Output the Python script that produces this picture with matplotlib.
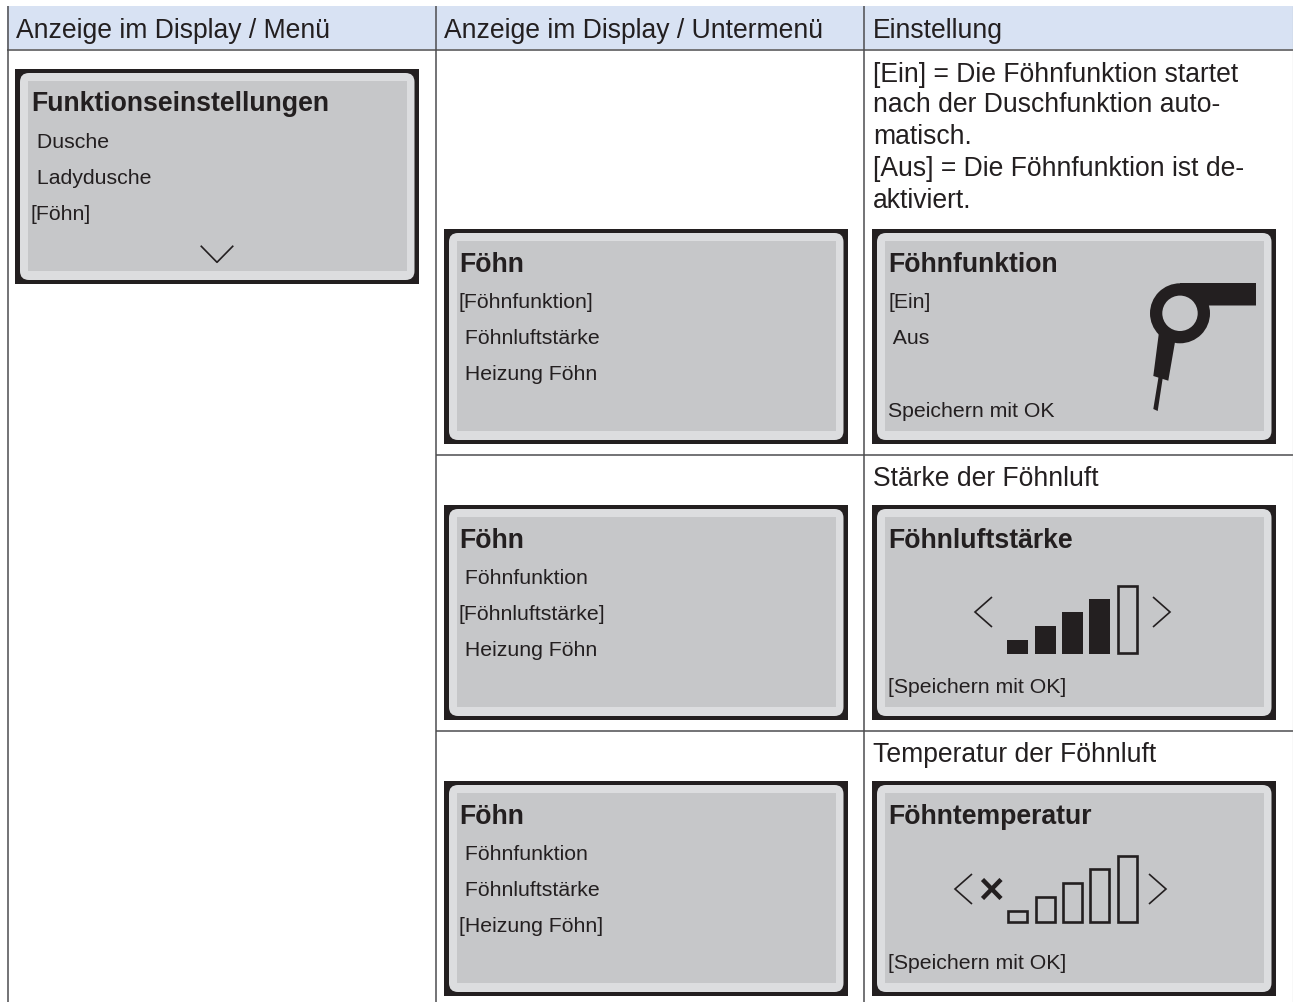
import matplotlib
matplotlib.use('Agg')
import matplotlib.pyplot as plt
from matplotlib.patches import Rectangle, FancyBboxPatch, Polygon, Circle

plt.rcParams['font.family'] = ['Liberation Sans', 'DejaVu Sans']

INK = '#231f20'
HEADER_BG = '#d8e2f3'
RIM = '#dcdddf'
LCD = '#c6c7c9'
RULE = '#4d4d4f'

headers = ['Anzeige im Display / Menü', 'Anzeige im Display / Untermenü', 'Einstellung']

menu_title = 'Funktionseinstellungen'
menu_lines = [' Dusche', ' Ladydusche', '[Föhn]']

sub_title = 'Föhn'
sub_rows = [
    ['[Föhnfunktion]', ' Föhnluftstärke', ' Heizung Föhn'],
    [' Föhnfunktion', '[Föhnluftstärke]', ' Heizung Föhn'],
    [' Föhnfunktion', ' Föhnluftstärke', '[Heizung Föhn]'],
]

setting_text = ['[Ein] = Die Föhnfunktion startet', 'nach der Duschfunktion auto-', 'matisch.',
                '[Aus] = Die Föhnfunktion ist de-', 'aktiviert.']
setting_heads = ['Stärke der Föhnluft', 'Temperatur der Föhnluft']
setting_titles = ['Föhnfunktion', 'Föhnluftstärke', 'Föhntemperatur']
save_label = '[Speichern mit OK]'

air_levels = [14, 28, 42, 55, 69]
air_filled = [True, True, True, True, False]
temp_levels = [13, 27, 41, 55, 68]
temp_filled = [False, False, False, False, False]
bar_left = [1007, 1035, 1062, 1089, 1117]

fig = plt.figure(figsize=(12.93, 10.03), dpi=100)
ax = fig.add_axes([0, 0, 1, 1])
ax.set_xlim(0, 1293)
ax.set_ylim(1003, 0)
ax.axis('off')


def screen(x, y):
    ax.add_patch(Rectangle((x, y), 404, 215, fc=INK, ec='none'))
    ax.add_patch(FancyBboxPatch((x + 5, y + 4), 394.5, 207, boxstyle='round,pad=0,rounding_size=9',
                                fc=RIM, ec='none'))
    ax.add_patch(Rectangle((x + 13, y + 12), 379, 190, fc=LCD, ec='none'))


def chevron(x, y, d):
    ax.plot([x - d * 17, x, x - d * 17], [y - 15, y, y + 15], color=INK, lw=1.2,
            solid_joinstyle='miter', solid_capstyle='butt')


def bars(levels, filled, bottom):
    for left, h, full in zip(bar_left, levels, filled):
        if full:
            ax.bar(left + 10.5, -h, width=21, bottom=bottom, color=INK, lw=0)
        else:
            ax.bar(left + 10.5, -(h - 2.6), width=18.4, bottom=bottom - 1.3, fc='none', ec=INK, lw=1.9)


def rule(xs, ys):
    ax.plot(xs, ys, color=RULE, lw=1.1, solid_capstyle='butt')


# table grid
ax.add_patch(Rectangle((7, 7), 1286, 43, fc=HEADER_BG, ec='none'))
rule([7, 1293], [50.5, 50.5])
rule([436, 1293], [455.5, 455.5])
rule([436, 1293], [731.5, 731.5])
for x in [7.5, 435.8, 864]:
    rule([x, x], [7, 1003])
ax.plot([1292.5, 1292.5], [7, 1003], color='#8a8a8c', lw=0.8, solid_capstyle='butt')

for x, label in zip([16, 444, 873], headers):
    ax.text(x, 38, label, fontsize=19.1, color=INK, va='baseline')

# first column screen
screen(15, 70)
ax.text(31, 111, menu_title, fontsize=19.2, fontweight='bold', color=INK)
for y, label in zip([148, 184, 220], menu_lines):
    ax.text(31, y, label, fontsize=15.3, color=INK)
ax.plot([201.3, 217, 232.7], [247.3, 263.3, 247.3], color=INK, lw=1.2)

# second column screens
for y0, rows in zip([230, 506, 782], sub_rows):
    screen(444, y0)
    ax.text(459, y0 + 42, sub_title, fontsize=19.2, fontweight='bold', color=INK)
    for y, label in zip([78, 114, 150], rows):
        ax.text(459, y0 + y, label, fontsize=15.3, color=INK)

# third column text
for y, line in zip([81.5, 112, 144, 176, 208], setting_text):
    ax.text(873, y, line, fontsize=19.1, color=INK)
ax.text(873, 486, setting_heads[0], fontsize=19.1, color=INK)
ax.text(873, 762, setting_heads[1], fontsize=19.1, color=INK)

# third column screens
for y0, title in zip([230, 506, 782], setting_titles):
    screen(872, y0)
    ax.text(888, y0 + 42, title, fontsize=19.2, fontweight='bold', color=INK)

ax.text(888, 308, '[Ein]', fontsize=15.3, color=INK)
ax.text(888, 344, ' Aus', fontsize=15.3, color=INK)
ax.text(888, 417, 'Speichern mit OK', fontsize=15.3, color=INK)
ax.text(888, 693, save_label, fontsize=15.3, color=INK)
ax.text(888, 969, save_label, fontsize=15.3, color=INK)

# hair dryer icon
ax.add_patch(Polygon([(1180, 284), (1256, 284), (1256, 306.5), (1209, 306.5), (1180, 314)], fc=INK, ec='none'))
ax.add_patch(Polygon([(1159, 333), (1153.3, 377), (1168.3, 381.7), (1175, 343)], fc=INK, ec='none'))
ax.add_patch(Polygon([(1159.5, 372), (1153.3, 410), (1157.7, 412), (1163.8, 372)], fc=INK, ec='none'))
ax.add_patch(Circle((1180, 314.3), 30, fc=INK, ec='none'))
ax.add_patch(Circle((1180, 314.3), 17.7, fc=LCD, ec='none'))

# level bars
bars(air_levels, air_filled, 655)
chevron(975, 613, -1)
chevron(1170, 613, 1)
bars(temp_levels, temp_filled, 924)
chevron(955, 890, -1)
chevron(1166, 890, 1)
ax.plot([982.5, 1001], [880.5, 899.5], color=INK, lw=3.2, solid_capstyle='butt')
ax.plot([982.5, 1001], [899.5, 880.5], color=INK, lw=3.2, solid_capstyle='butt')

fig.savefig('out.png', dpi=100)
